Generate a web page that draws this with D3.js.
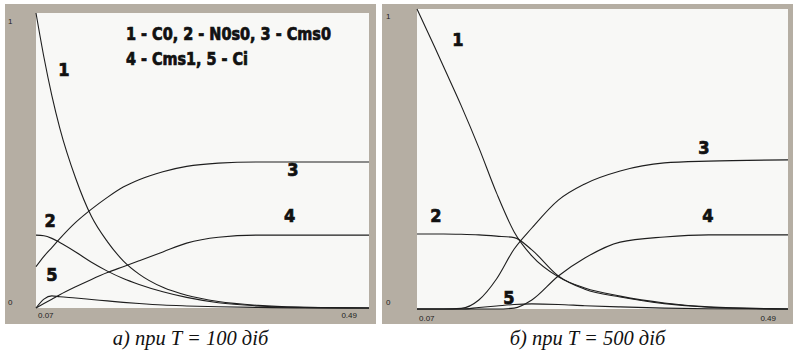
<!DOCTYPE html>
<html>
<head>
<meta charset="utf-8">
<script src="https://cdn.jsdelivr.net/npm/d3@7"></script>
<style>
  body { margin: 0; background: #fff; }
  svg { display: block; }
</style>
</head>
<body>
<div id="chart"></div>
<script>
// x grid (same for both runs)
var xValues = [0.07, 0.08, 0.09, 0.10, 0.12, 0.14, 0.16, 0.18, 0.20, 0.23, 0.26, 0.30, 0.35, 0.40, 0.49];

// T = 100 days
var c0_100   = [1.00, 0.85, 0.72, 0.61, 0.44, 0.31, 0.225, 0.16, 0.115, 0.07, 0.043, 0.022, 0.009, 0.003, 0];
var n0s0_100 = [0.247, 0.245, 0.236, 0.222, 0.19, 0.155, 0.125, 0.10, 0.08, 0.055, 0.036, 0.018, 0.007, 0.002, 0];
var cms0_100 = [0.14, 0.175, 0.205, 0.235, 0.29, 0.335, 0.375, 0.41, 0.435, 0.462, 0.48, 0.491, 0.495, 0.495, 0.495];
var cms1_100 = [0, 0.015, 0.03, 0.045, 0.072, 0.097, 0.12, 0.14, 0.16, 0.19, 0.22, 0.24, 0.247, 0.247, 0.247];
var ci_100   = [0, 0.03, 0.041, 0.038, 0.034, 0.029, 0.024, 0.019, 0.015, 0.01, 0.007, 0.004, 0.002, 0.0005, 0];

// T = 500 days
var c0_500   = [1.00, 0.937, 0.873, 0.808, 0.678, 0.538, 0.387, 0.257, 0.177, 0.107, 0.07, 0.043, 0.02, 0.007, 0];
var n0s0_500 = [0.25, 0.25, 0.25, 0.25, 0.249, 0.247, 0.243, 0.238, 0.197, 0.11, 0.066, 0.04, 0.018, 0.006, 0];
var cms0_500 = [0, 0, 0, 0, 0.002, 0.03, 0.10, 0.20, 0.27, 0.363, 0.417, 0.46, 0.487, 0.493, 0.497];
var cms1_500 = [0, 0, 0, 0, 0, 0, 0, 0.003, 0.03, 0.11, 0.17, 0.223, 0.24, 0.247, 0.247];
var ci_500   = [0, 0, 0, 0, 0, 0.005, 0.01, 0.015, 0.017, 0.015, 0.011, 0.007, 0.003, 0.001, 0];

var curveNames = ["1", "2", "3", "4", "5"];
var legendLines = ["1 - C0, 2 - N0s0, 3 - Cms0", "4 - Cms1, 5 - Ci"];
var captions = ["а) при T = 100 діб", "б) при T = 500 діб"];
var xTicks = [0.07, 0.49];
var yTicks = [0, 1];

// label anchor points (data units) for curve numbers
var labelX_100 = [0.1053, 0.0877, 0.394, 0.390, 0.090];
var labelY_100 = [0.807, 0.298, 0.468, 0.315, 0.112];
var labelX_500 = [0.1164, 0.0915, 0.3949, 0.3994, 0.1741];
var labelY_500 = [0.897, 0.313, 0.537, 0.313, 0.04];

var W = 794, H = 358;
var frameColor = "#b5aea3";
var plotColor = "#f8f8f6";
var lineColor = "#1e1e1e";
var boldFont = "'DejaVu Sans Condensed', 'DejaVu Sans', sans-serif";

var svg = d3.select("#chart").append("svg")
  .attr("width", W)
  .attr("height", H);

svg.append("rect").attr("width", W).attr("height", H).attr("fill", "#fff");

var panels = [
  { frame: {x: 5, y: 4, w: 371, h: 320}, plot: {l: 36, t: 13, r: 369, b: 308},
    series: [c0_100, n0s0_100, cms0_100, cms1_100, ci_100],
    lx: labelX_100, ly: labelY_100, caption: captions[0], legend: true,
    tickY: {one: 24, zero: 305, x: 8}, tickXBase: 318 },
  { frame: {x: 382, y: 4, w: 411, h: 320}, plot: {l: 417, t: 9, r: 788, b: 309},
    series: [c0_500, n0s0_500, cms0_500, cms1_500, ci_500],
    lx: labelX_500, ly: labelY_500, caption: captions[1], legend: false,
    tickY: {one: 19, zero: 305, x: 386}, tickXBase: 321 }
];

panels.forEach(function(p) {
  var g = svg.append("g");

  g.append("rect")
    .attr("x", p.frame.x).attr("y", p.frame.y)
    .attr("width", p.frame.w).attr("height", p.frame.h)
    .attr("fill", frameColor);

  var x = d3.scaleLinear().domain([0.07, 0.49]).range([p.plot.l, p.plot.r]);
  var y = d3.scaleLinear().domain([0, 1]).range([p.plot.b, p.plot.t]);

  g.append("rect")
    .attr("x", x(0.07)).attr("y", y(1))
    .attr("width", x(0.49) - x(0.07)).attr("height", y(0) - y(1))
    .attr("fill", plotColor);

  var line = d3.line()
    .x(function(d, i) { return x(xValues[i]); })
    .y(function(d) { return y(d); })
    .curve(d3.curveMonotoneX);

  p.series.forEach(function(s) {
    g.append("path")
      .datum(s)
      .attr("d", line)
      .attr("fill", "none")
      .attr("stroke", lineColor)
      .attr("stroke-width", 1.1);
  });

  // curve numbers
  curveNames.forEach(function(name, i) {
    g.append("text")
      .attr("x", x(p.lx[i]))
      .attr("y", y(p.ly[i]) + 6.5)
      .attr("text-anchor", "middle")
      .style("font-family", boldFont)
      .style("font-weight", "bold")
      .style("font-size", "18px")
      .attr("fill", "#111")
      .attr("stroke", "#111")
      .attr("stroke-width", 0.7)
      .text(name);
  });

  // y tick labels
  yTicks.forEach(function(t) {
    g.append("text")
      .attr("x", p.tickY.x)
      .attr("y", t === 1 ? p.tickY.one : p.tickY.zero)
      .style("font-family", "'Liberation Sans', Arial, sans-serif")
      .style("font-size", "8px")
      .attr("fill", "#222")
      .text(t);
  });

  // x tick labels
  xTicks.forEach(function(t, i) {
    g.append("text")
      .attr("x", i === 0 ? x(t) + 2 : x(t) - 12)
      .attr("y", p.tickXBase)
      .attr("text-anchor", i === 0 ? "start" : "end")
      .style("font-family", "'Liberation Sans', Arial, sans-serif")
      .style("font-size", "8px")
      .attr("fill", "#222")
      .text(t.toFixed(2));
  });

  if (p.legend) {
    var legendWidths = [205, 122];
    var legendY = [0.908, 0.824];
    legendLines.forEach(function(txt, i) {
      g.append("text")
        .attr("x", x(0.1835))
        .attr("y", y(legendY[i]))
        .attr("textLength", legendWidths[i])
        .attr("lengthAdjust", "spacingAndGlyphs")
        .style("font-family", boldFont)
        .style("font-weight", "bold")
        .style("font-size", "17px")
        .attr("fill", "#111")
        .attr("stroke", "#111")
        .attr("stroke-width", 0.7)
        .text(txt);
    });
  }

  svg.append("text")
    .attr("x", p.frame.x + p.frame.w / 2)
    .attr("y", 345)
    .attr("text-anchor", "middle")
    .style("font-family", "'Liberation Serif', 'Times New Roman', serif")
    .style("font-style", "italic")
    .style("font-size", "20.5px")
    .attr("fill", "#111")
    .text(p.caption);
});
</script>
</body>
</html>
